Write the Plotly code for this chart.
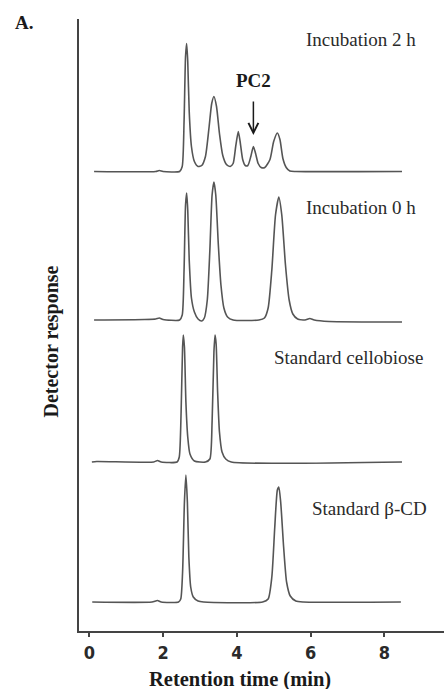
import plotly.graph_objects as go

# ---- data (retention time in min, detector response in a.u.) ----
t_2h = [0.13, 1.8, 1.9, 2.0, 2.45, 2.52, 2.57, 2.61, 2.64, 2.67, 2.71, 2.77, 2.85, 2.95, 3.05, 3.15,
        3.25, 3.32, 3.38, 3.45, 3.53, 3.62, 3.72, 3.82, 3.9, 3.97, 4.04, 4.09, 4.16, 4.23, 4.3, 4.38,
        4.45, 4.51, 4.58, 4.66, 4.76, 4.9, 5.0, 5.1, 5.17, 5.25, 5.34, 5.44, 5.6, 8.48]
r_2h = [0, 0, 1, 0, 0, 5, 50, 115, 128, 110, 60, 25, 10, 5, 6, 15,
        45, 68, 75, 65, 38, 16, 7, 5, 8, 25, 40, 30, 12, 6, 6, 15,
        25, 18, 8, 4, 4, 12, 30, 38.5, 32, 13, 4, 0.5, 0, 0]

t_0h = [0.13, 1.5, 1.8, 1.9, 2.0, 2.45, 2.52, 2.57, 2.61, 2.64, 2.67, 2.71, 2.77, 2.85, 2.95, 3.05,
        3.12, 3.2, 3.27, 3.33, 3.38, 3.43, 3.5, 3.57, 3.65, 3.75, 3.9, 4.6, 4.75, 4.85, 4.95, 5.05,
        5.14, 5.22, 5.32, 5.42, 5.52, 5.65, 5.85, 5.98, 6.1, 6.5, 8.48]
r_0h = [0, 0.5, 1, 2, 0.5, 0, 5, 50, 115, 127, 110, 60, 22, 8, 1, -1,
        2, 20, 70, 125, 138, 125, 75, 35, 12, 3, 0, 0, 2, 12, 50, 105,
        123, 105, 55, 20, 6, 1, 0, 1.5, 0, -1.5, -2]

t_cel = [0.07, 0.2, 1.75, 1.85, 1.95, 2.38, 2.44, 2.49, 2.53, 2.55, 2.58, 2.62, 2.67, 2.73, 2.85, 3.15,
         3.27, 3.33, 3.38, 3.41, 3.44, 3.48, 3.53, 3.6, 3.7, 3.85, 8.48]
r_cel = [0, 0.5, 0, 1.5, 0, 0, 5, 50, 115, 127, 115, 60, 25, 8, 1, 0,
         3, 40, 110, 127, 118, 70, 30, 10, 3, 0, 0]

t_bcd = [0.08, 1.7, 1.85, 1.95, 2.42, 2.48, 2.53, 2.58, 2.62, 2.66, 2.7, 2.75, 2.82, 2.95, 3.1,
         4.7, 4.85, 4.95, 5.03, 5.1, 5.14, 5.19, 5.27, 5.35, 5.45, 5.6, 5.8, 8.45]
r_bcd = [0, 0, 1.5, 0, 0, 3, 30, 100, 127, 100, 45, 15, 5, 1, 0,
         0, 3, 25, 75, 112, 115, 100, 55, 20, 6, 1, 0, 0]

labels = ["Incubation 2 h", "Incubation 0 h", "Standard cellobiose", "Standard \u03b2-CD"]
tick_vals = [0, 2, 4, 6, 8]
tick_text = ["0", "2", "4", "6", "8"]

# ---- layout constants (vertical stacking of the traces) ----
offsets = [459.5, 311, 169, 29]
label_pos = [(7.38, 592), (7.38, 424), (7.04, 274), (7.61, 123)]

series = [(t_2h, r_2h), (t_0h, r_0h), (t_cel, r_cel), (t_bcd, r_bcd)]

fig = go.Figure()
for (t, r), off, name in zip(series, offsets, labels):
    fig.add_trace(go.Scatter(
        x=t, y=[v + off for v in r], mode="lines", name=name,
        line=dict(color="#555555", width=1.6, shape="spline", smoothing=0.6),
        showlegend=False, hoverinfo="skip"))

serif = "Liberation Serif, Times New Roman, serif"
for (lx, ly), name in zip(label_pos, labels):
    fig.add_annotation(x=lx, y=ly, xref="x", yref="y", text=name, showarrow=False,
                       font=dict(family=serif, size=19, color="#2a2a2a"),
                       xanchor="center", yanchor="middle")

# PC2 label and arrow
fig.add_annotation(x=4.45, y=551, xref="x", yref="y", text="<b>PC2</b>", showarrow=False,
                   font=dict(family=serif, size=19, color="#1a1a1a"),
                   xanchor="center", yanchor="middle")
fig.add_annotation(x=4.45, y=496, ax=4.45, ay=531, xref="x", yref="y", axref="x", ayref="y",
                   text="", showarrow=True, arrowhead=5, arrowsize=1.3, arrowwidth=1.5,
                   arrowcolor="#1a1a1a")

# panel letter and axis titles
fig.add_annotation(x=-0.150, y=0.9935, xref="paper", yref="paper", text="<b>A.</b>",
                   showarrow=False, font=dict(family=serif, size=19, color="#1a1a1a"),
                   xanchor="center", yanchor="middle")
fig.add_annotation(x=0.441, y=-0.080, xref="paper", yref="paper", text="<b>Retention time (min)</b>",
                   showarrow=False, font=dict(family=serif, size=20.5, color="#1a1a1a"),
                   xanchor="center", yanchor="middle")
fig.add_annotation(x=-0.074, y=0.473, xref="paper", yref="paper", text="<b>Detector response</b>",
                   showarrow=False, textangle=-90, font=dict(family=serif, size=20, color="#1a1a1a"),
                   xanchor="center", yanchor="middle")

fig.update_layout(
    width=444, height=689,
    margin=dict(l=79, r=0, t=19, b=58),
    paper_bgcolor="white", plot_bgcolor="white",
    xaxis=dict(range=[-0.279, 9.619], showgrid=False, zeroline=False, showline=True,
               linecolor="#444444", linewidth=1.8, ticks="outside", ticklen=4, tickwidth=1.5,
               tickcolor="#444444", tickvals=tick_vals, ticktext=tick_text,
               tickfont=dict(family="Liberation Sans Narrow, DejaVu Sans Condensed, Arial Narrow, sans-serif",
                             size=18, color="#2a2a2a", weight="bold")),
    yaxis=dict(range=[0, 612], showgrid=False, zeroline=False, showline=True,
               linecolor="#444444", linewidth=1.8, showticklabels=False, ticks=""),
)

fig.write_html("out.html")
